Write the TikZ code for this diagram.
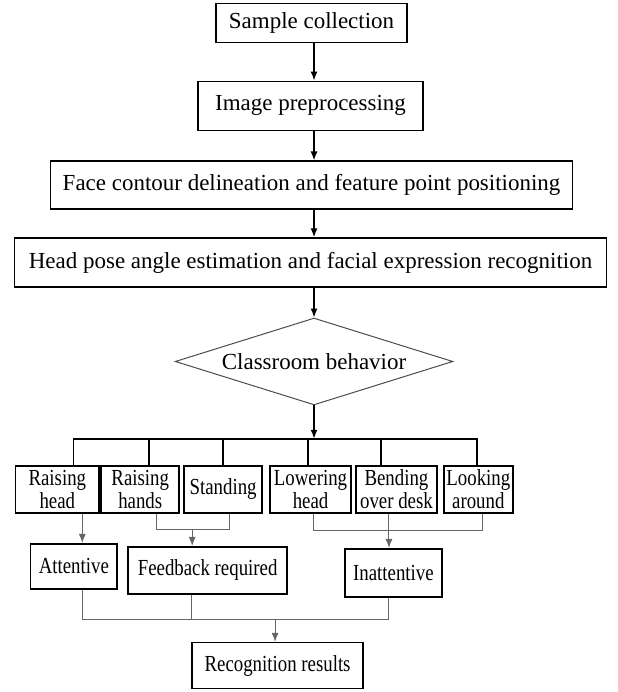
\documentclass[tikz,border=0pt]{standalone}
\usepackage{fontspec}
\setmainfont{Liberation Serif}
\newfontfamily\condfont{Liberation Serif}[FakeStretch=0.82]
\usetikzlibrary{shapes.geometric,arrows.meta}

\begin{document}
\begin{tikzpicture}[x=0.5pt, y=-0.5pt,
		stage/.style={draw, line width=0.75pt, inner sep=0pt, font=\fontsize{11.5}{13}\selectfont},
		act/.style={draw, line width=0.8pt, inner sep=0pt, align=center, font=\condfont\fontsize{11.5}{9}\selectfont},
		arr/.style={-{Latex[length=4.5pt,width=3.5pt]}},
		link/.style={black!60, line width=0.5pt}]
		\draw[white](0,0) rectangle(617,692);
		
		\node[stage, minimum width=95.5pt, minimum height=19.5pt] (smp) at (311.5,22.5) {Sample collection};
		\node[stage, minimum width=112.5pt, minimum height=24.5pt] (pre) at (310.5,105.5) {Image preprocessing};
		\node[stage, minimum width=261.5pt, minimum height=24pt] (fac) at (311.5,185) {Face contour delineation and feature point positioning};
		\node[stage, minimum width=296.5pt, minimum height=24.5pt] (hpe) at (310.5,262.5) {Head pose angle estimation and facial expression recognition};
		\node[diamond, draw=black!70, line width=0.5pt, aspect=3.2, inner sep=0pt, minimum width=139pt, minimum height=43.5pt, font=\fontsize{11.5}{13}\selectfont] (cls) at (314,361.5) {Classroom behavior};
		
		\foreach \a/\b in {smp/pre, pre/fac, fac/hpe, hpe/cls}
		\draw[arr, line width=0.75pt] (\a.south -| cls.north) -- (\b.north -| cls.north);
		
		\node[act, minimum width=42pt, minimum height=23.5pt] (rhd) at (57,489.5) {Raising\\head};
		\node[act, minimum width=39pt, minimum height=23.5pt] (rhn) at (140,489.5) {Raising\\hands};
		\node[act, minimum width=39pt, minimum height=23.5pt] (std) at (223,489.5) {Standing};
		\node[act, minimum width=40.5pt, minimum height=23.5pt] (lwh) at (310.5,489.5) {Lowering\\head};
		\node[act, minimum width=40.5pt, minimum height=23.5pt] (bnd) at (396.5,489.5) {Bending\\over desk};
		\node[act, minimum width=34.5pt, minimum height=23.5pt] (lka) at (478.5,489.5) {Looking\\around};
		
		\coordinate (bar) at (314,439);
		\draw[arr, line width=1.2pt] (cls.south) -- (bar);
		\draw[line width=0.75pt] ([xshift=8pt]rhd.north) |- (bar) -| ([xshift=-0.75pt]lka.north);
		\foreach \n/\dx in {rhn/4.5pt, std/0pt, lwh/-1.25pt, bnd/-7.75pt}
		\draw[line width=0.75pt] ([xshift=\dx]\n.north) -- ([xshift=\dx]\n.north |- bar);
		
		\node[act, minimum width=43.5pt, minimum height=22.5pt] (att) at (73.5,566.5) {Attentive};
		\node[act, minimum width=79.5pt, minimum height=23.5pt] (fbr) at (207.5,570.5) {Feedback required};
		\node[act, minimum width=48.5pt, minimum height=24pt] (ina) at (393.5,573) {Inattentive};
		\node[act, minimum width=85.5pt, minimum height=23pt] (rec) at (277.5,666) {Recognition results};
		
		\coordinate (j1) at (192,530);
		\coordinate (j2) at (389,531);
		\coordinate (j3) at (275,620);
		\draw[link, arr] ([xshift=12.5pt]rhd.south) -- ([xshift=12.5pt]rhd.south |- att.north);
		\draw[link] ([xshift=8pt]rhn.south) |- (j1) -| ([xshift=3pt]std.south);
		\draw[link, arr] (j1) -- (j1 |- fbr.north);
		\draw[link] ([xshift=1.25pt]lwh.south) |- (j2) -| ([xshift=2.25pt]lka.south);
		\draw[link, arr] ([xshift=-3.75pt]bnd.south) -- ([xshift=-3.75pt]bnd.south |- ina.north);
		\draw[link] ([xshift=4.25pt]att.south) |- (j3) -| ([xshift=-2.25pt]ina.south);
		\draw[link] ([xshift=-8.25pt]fbr.south) -- ([xshift=-8.25pt]fbr.south |- j3);
		\draw[link, arr] (j3) -- (j3 |- rec.north);
	\end{tikzpicture}
\end{document}
